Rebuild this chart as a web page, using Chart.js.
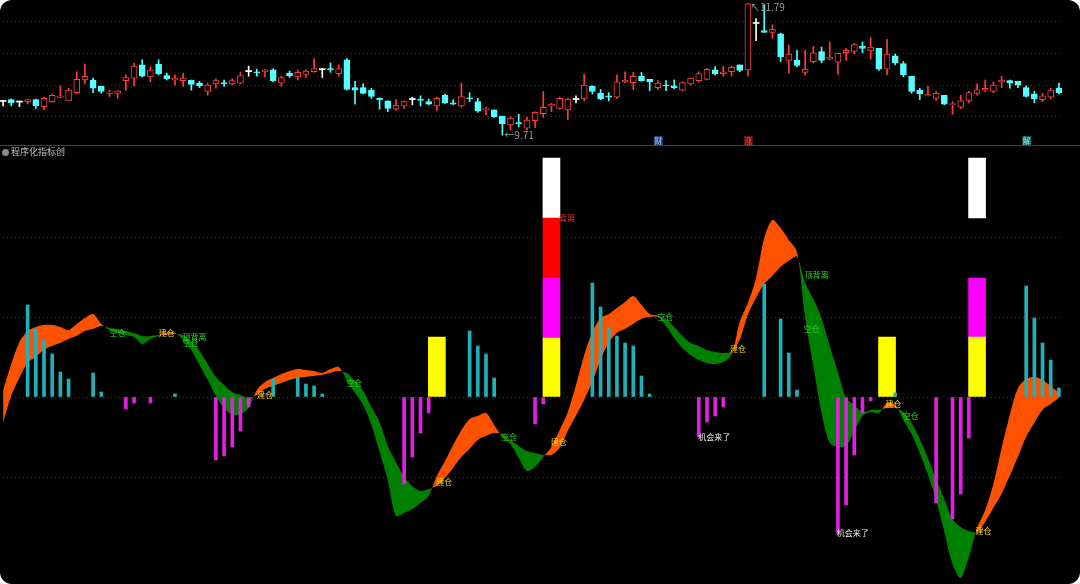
<!DOCTYPE html>
<html>
<head>
<meta charset="utf-8">
<script src="https://cdn.jsdelivr.net/npm/chart.js@4.4.0/dist/chart.umd.min.js"></script>
<style>
  html, body { margin: 0; padding: 0; background: #fff; }
  #frame { position: relative; width: 1080px; height: 584px; background: #000; border-radius: 12px; overflow: hidden; }
  #kline { position: absolute; left: -1px; top: 0; }
  #ind { position: absolute; left: -1px; top: 146px; }
  #sep { position: absolute; left: 0; top: 145px; width: 1080px; height: 1px; background: #9e1c1c; }
  #title { position: absolute; left: 2px; top: 145px; height: 12px; line-height: 12px; font: 9px "Noto Sans CJK SC", sans-serif; color: #c4c4c4; }
  #title i { display: inline-block; width: 7px; height: 7px; border-radius: 50%; background: #8c8c8c; margin-right: 2px; vertical-align: -1px; }
</style>
</head>
<body>
<div id="frame">
  <canvas id="kline" width="1081" height="145"></canvas>
  <div id="sep"></div>
  <canvas id="ind" width="1081" height="438"></canvas>
  <div id="title"><i></i>程序化指标创</div>
</div>
<script>
// 日K (130根)
const open = [
  10.25,10.27,10.24,10.24,10.27,10.16,10.24,10.31,10.25,10.38,
  10.58,10.58,10.48,10.37,10.37,10.57,10.61,10.82,10.63,10.83,
  10.65,10.58,10.57,10.58,10.53,10.40,10.52,10.54,10.52,10.53,
  10.72,10.71,10.71,10.74,10.53,10.69,10.63,10.67,10.71,10.75,
  10.76,10.68,10.90,10.46,10.46,10.42,10.29,10.25,10.12,10.17,
  10.28,10.28,10.24,10.17,10.34,10.22,10.17,10.30,10.24,10.11,
  10.11,10.01,9.87,9.91,9.82,9.94,10.05,10.17,10.13,10.11,
  10.28,10.28,10.48,10.37,10.33,10.31,10.55,10.54,10.64,10.59,
  10.46,10.50,10.49,10.42,10.52,10.57,10.59,10.74,10.68,10.71,
  10.82,10.74,11.48,11.36,11.33,11.31,10.89,10.89,10.70,10.87,
  11.03,10.91,10.86,11.01,11.03,11.11,11.04,11.08,10.75,10.96,
  10.84,10.64,10.42,10.33,10.29,10.34,10.19,10.15,10.25,10.37,
  10.42,10.40,10.55,10.57,10.56,10.46,10.36,10.27,10.31,10.45
];
const high = [
  10.26,10.28,10.25,10.28,10.28,10.31,10.35,10.49,10.45,10.71,
  10.83,10.61,10.48,10.42,10.41,10.66,10.85,10.90,10.79,10.90,
  10.69,10.66,10.69,10.58,10.56,10.53,10.60,10.58,10.60,10.70,
  10.80,10.75,10.75,10.76,10.64,10.72,10.74,10.74,10.92,10.76,
  10.85,10.82,10.92,10.56,10.52,10.45,10.30,10.25,10.27,10.25,
  10.31,10.33,10.28,10.31,10.36,10.27,10.53,10.38,10.29,10.15,
  10.11,10.01,10.00,10.04,9.99,10.08,10.40,10.21,10.31,10.29,
  10.33,10.67,10.49,10.43,10.38,10.66,10.71,10.70,10.70,10.59,
  10.57,10.57,10.58,10.55,10.61,10.71,10.76,10.79,10.80,10.80,
  10.82,11.79,11.55,11.77,11.45,11.32,11.13,11.05,11.05,11.11,
  11.10,11.18,11.00,11.08,11.16,11.18,11.25,11.08,11.22,10.99,
  10.87,10.64,10.45,10.48,10.40,10.34,10.24,10.34,10.40,10.52,
  10.58,10.55,10.64,10.58,10.56,10.49,10.40,10.37,10.45,10.53
];
const low = [
  10.17,10.17,10.16,10.20,10.13,10.11,10.23,10.30,10.25,10.36,
  10.52,10.38,10.37,10.32,10.29,10.42,10.49,10.63,10.55,10.66,
  10.58,10.50,10.48,10.42,10.46,10.34,10.45,10.48,10.50,10.52,
  10.64,10.64,10.63,10.55,10.48,10.62,10.58,10.62,10.70,10.62,
  10.70,10.64,10.42,10.20,10.36,10.29,10.12,10.08,10.10,10.13,
  10.19,10.17,10.19,10.10,10.21,10.19,10.15,10.24,10.07,10.03,
  9.99,9.71,9.79,9.84,9.79,9.83,9.99,10.08,10.12,9.96,
  10.22,10.25,10.36,10.27,10.25,10.29,10.54,10.43,10.56,10.41,
  10.43,10.41,10.44,10.41,10.50,10.55,10.58,10.66,10.64,10.64,
  10.71,10.64,11.20,11.33,11.24,10.87,10.69,10.79,10.66,10.85,
  10.85,10.90,10.67,10.89,10.99,11.01,10.91,10.73,10.66,10.82,
  10.63,10.37,10.27,10.33,10.26,10.19,10.04,10.13,10.22,10.34,
  10.40,10.38,10.46,10.45,10.46,10.31,10.22,10.24,10.28,10.36
];
const close = [
  10.25,10.22,10.24,10.27,10.17,10.29,10.34,10.33,10.42,10.59,
  10.64,10.45,10.40,10.39,10.41,10.62,10.80,10.64,10.74,10.68,
  10.60,10.61,10.61,10.51,10.49,10.50,10.57,10.52,10.57,10.65,
  10.72,10.69,10.74,10.57,10.62,10.65,10.70,10.72,10.76,10.75,
  10.74,10.76,10.43,10.42,10.37,10.32,10.27,10.13,10.18,10.24,
  10.28,10.26,10.20,10.29,10.22,10.20,10.32,10.28,10.09,10.13,
  10.00,9.89,9.98,9.89,9.95,10.07,10.15,10.20,10.29,10.28,
  10.28,10.50,10.40,10.28,10.31,10.55,10.58,10.64,10.57,10.55,
  10.53,10.49,10.46,10.54,10.61,10.68,10.75,10.68,10.71,10.78,
  10.73,11.78,11.48,11.33,11.38,10.95,10.99,10.81,10.75,11.01,
  10.89,10.94,11.00,11.05,11.14,11.08,11.10,10.75,10.99,10.85,
  10.66,10.40,10.36,10.35,10.37,10.20,10.21,10.25,10.38,10.43,
  10.45,10.50,10.58,10.53,10.50,10.32,10.28,10.33,10.42,10.38
];
const priceGrid = [10, 10.5, 11, 11.5];
const priceTagIdx = [61, 91];
const priceTagVal = [9.71, 11.79];
const markIdx = [80, 91, 125];
const markText = ['财', '涨', '解'];

// 指标: 快线 / 慢线 (带状填充)
const fast = [
  7,33,55,66,70,72,72,70,67,73,
  79,83,73,67,64,62,60,53,58,61,
  64,64,57,47,32,17,1,-11,-18,-17,
  -11,7,15,19,23,26,28,27,26,24,
  28,30,17,4,-8,-28,-55,-83,-119,-116,
  -112,-106,-99,-79,-64,-48,-33,-22,-19,-16,
  -28,-40,-47,-61,-74,-70,-60,-50,-33,-15,
  12,42,65,79,83,89,95,101,92,83,
  81,71,59,49,42,37,34,33,35,42,
  75,94,119,159,177,169,157,145,79,31,
  -16,-46,-50,-49,-34,-19,-15,-16,-6,-8,
  -23,-37,-56,-78,-103,-135,-167,-181,-160,-131,
  -113,-87,-51,-18,9,18,20,17,11,4
];
const slow = [
  -26,1,19,34,40,47,51,54,58,61,
  66,68,71,69,68,66,64,61,61,62,
  62,63,62,55,46,33,20,12,5,2,
  -1,2,8,11,14,17,19,20,21,22,
  24,26,24,16,6,-10,-25,-49,-65,-80,
  -89,-94,-92,-89,-81,-71,-60,-52,-43,-39,
  -36,-37,-43,-49,-54,-56,-58,-58,-51,-34,
  -19,-3,15,37,54,64,68,73,78,80,
  80,78,70,61,54,51,47,45,44,45,
  57,82,99,113,121,130,136,140,114,98,
  79,51,25,-1,-8,-15,-13,-13,-11,-11,
  -15,-26,-42,-61,-82,-102,-122,-130,-134,-135,
  -125,-111,-97,-79,-60,-40,-26,-13,-7,-1
];

// 柱线
const upIdx = [3,4,5,6,7,8,11,12,21,33,36,37,38,39,57,58,59,60,72,73,74,75,76,77,78,79,93,95,96,97,109,125,126,127,128,129];
const upVal = [92,68,57,43,25,18,24,5,3,18,20,13,11,3,66,51,43,19,114,90,69,61,54,51,21,3,113,78,44,7,4,111,79,54,37,9];
const dnIdx = [15,16,18,26,27,28,29,30,49,50,51,52,65,66,85,86,87,88,102,103,104,105,106,114,116,117,118];
const dnVal = [-12,-6,-6,-63,-59,-50,-34,-10,-87,-60,-36,-16,-27,-7,-40,-25,-19,-10,-136,-108,-58,-16,-4,-106,-122,-97,-41];

// 信号块
const blockIdx = [53, 67, 108, 119];
const yellowSeg = [[0, 60], [0, 59], [0, 60], [0, 60]];
const pinkSeg = [null, [59, 119], null, [60, 119]];
const redSeg = [null, [119, 179], null, null];
const whiteSeg = [null, [179, 239], null, [179, 239]];
const indGrid = [-80, 0, 80, 160];

// 文字信号
const sigText = ['空仓','建仓','顶背离','空仓','建仓','空仓','建仓','空仓','建仓','空仓','建仓','顶背离','空仓','建仓','空仓','建仓','机会来了','机会来了','背离'];
const sigIdx = [14, 20, 23.4, 22.9, 32, 42.9, 53.9, 61.8, 67.9, 80.9, 89.8, 99.4, 98.8, 108.8, 110.9, 119.8, 86.9, 103.8, 68.9];
const sigVal = [64, 64, 60, 54, 2, 14, -85, -40, -45, 80, 48, 122, 68, -7, -19, -134, -40, -136, 179];

const days = open.map((_, i) => 'D' + (i + 1));
const N = days.length;

const UP = '#ff3b3b', DOWN = '#54ffff', DOJI = '#ffffff';
const GRID = '#6e1f1f';
const FONT = '"Noto Sans CJK SC", sans-serif';

function candleColor(i) {
  if (close[i] > open[i]) return UP;
  if (close[i] < open[i]) return DOWN;
  return DOJI;
}

let bodies = open.map((o, i) => o === close[i] ? [o - 0.008, o + 0.008] : [o, close[i]]);
let wicks = low.map((l, i) => [l, high[i]]);

const kTags = {
  id: 'kTags',
  afterDatasetsDraw(chart) {
    const c = chart.ctx, x = chart.scales.x, y = chart.scales.y;
    c.save();
    c.font = '10px ' + FONT;
    c.fillStyle = '#9c9c9c';
    c.textBaseline = 'middle';
    priceTagIdx.forEach((idx, k) => {
      let px = x.getPixelForValue(idx), py = y.getPixelForValue(priceTagVal[k]);
      if (py < 8) py = py + 4;
      c.fillText((k === 0 ? '←' : '↖') + priceTagVal[k].toFixed(2), px + 2, py);
    });
    const bg = ['#23457e', '#5c1010', '#145e60'];
    const fg = ['#a9c8ff', '#ff4a4a', '#7ff5f5'];
    c.font = '8px ' + FONT;
    c.textAlign = 'center';
    markIdx.forEach((idx, k) => {
      let px = x.getPixelForValue(idx);
      c.fillStyle = bg[k];
      c.fillRect(px - 4, 136, 9, 9);
      c.fillStyle = fg[k];
      c.fillText(markText[k], px + 0.5, 140.5);
    });
    c.restore();
  }
};

new Chart(document.getElementById('kline'), {
  type: 'bar',
  data: {
    labels: days,
    datasets: [{
      data: bodies,
      backgroundColor: ctx => candleColor(ctx.dataIndex) === UP ? '#000' : candleColor(ctx.dataIndex),
      borderColor: ctx => candleColor(ctx.dataIndex),
      borderWidth: ctx => open[ctx.dataIndex] === close[ctx.dataIndex] ? 0 : 1,
      borderSkipped: false,
      barThickness: 6,
      grouped: false,
      order: 0
    }, {
      data: wicks,
      backgroundColor: ctx => candleColor(ctx.dataIndex),
      barThickness: 1,
      grouped: false,
      order: 1
    }]
  },
  options: {
    responsive: false,
    animation: false,
    layout: { padding: { left: 0, right: 17, top: 0, bottom: 0 } },
    plugins: { legend: { display: false }, tooltip: { enabled: false } },
    scales: {
      x: { display: false },
      y: {
        min: 9.555, max: 11.842,
        ticks: { display: false },
        grid: { color: GRID, drawTicks: false },
        border: { display: false, dash: [1, 3] },
        afterBuildTicks: s => { s.ticks = priceGrid.map(v => ({ value: v })); }
      }
    }
  },
  plugins: [kTags]
});

function sparse(idx, vals) {
  let arr = new Array(N).fill(null);
  idx.forEach((p, k) => { arr[p] = vals[k]; });
  return arr;
}

const sigColor = { '建仓': '#ffd21a', '空仓': '#25d625', '顶背离': '#25d625', '机会来了': '#ececec', '背离': '#ff2a2a' };

const sigTexts = {
  id: 'sigTexts',
  afterDatasetsDraw(chart) {
    const c = chart.ctx, x = chart.scales.x, y = chart.scales.y;
    c.save();
    c.textAlign = 'center';
    c.textBaseline = 'middle';
    sigText.forEach((t, k) => {
      c.font = '8px ' + FONT;
      c.fillStyle = sigColor[t];
      c.fillText(t, x.getPixelForValue(sigIdx[k]), y.getPixelForValue(sigVal[k]));
    });
    c.restore();
  }
};

function block(seg, color) {
  return {
    data: sparse(blockIdx, seg),
    backgroundColor: color,
    barThickness: 17,
    grouped: false,
    order: 3
  };
}

new Chart(document.getElementById('ind'), {
  type: 'bar',
  data: {
    labels: days,
    datasets: [{
      type: 'line',
      data: fast,
      borderColor: 'transparent',
      borderWidth: 0,
      pointRadius: 0,
      tension: 0.3,
      fill: { target: '+1', above: '#ff5200', below: '#008000' },
      order: 5
    }, {
      type: 'line',
      data: slow,
      borderColor: 'transparent',
      borderWidth: 0,
      pointRadius: 0,
      tension: 0.3,
      fill: false,
      order: 6
    }, {
      data: sparse(upIdx, upVal),
      backgroundColor: '#1fb0b8',
      barThickness: 3,
      grouped: false,
      order: 2
    }, {
      data: sparse(dnIdx, dnVal),
      backgroundColor: '#e21fe2',
      barThickness: 3,
      grouped: false,
      order: 2
    },
      block(yellowSeg, '#ffff00'),
      block(pinkSeg, '#ff00ff'),
      block(redSeg, '#ff0000'),
      block(whiteSeg, '#ffffff')
    ]
  },
  options: {
    responsive: false,
    animation: false,
    layout: { padding: { left: 0, right: 17, top: 0, bottom: 0 } },
    plugins: { legend: { display: false }, tooltip: { enabled: false } },
    scales: {
      x: { display: false },
      y: {
        min: -187, max: 251,
        ticks: { display: false },
        grid: { color: GRID, drawTicks: false },
        border: { display: false, dash: [1, 3] },
        afterBuildTicks: s => { s.ticks = indGrid.map(v => ({ value: v })); }
      }
    }
  },
  plugins: [sigTexts]
});
</script>
</body>
</html>
